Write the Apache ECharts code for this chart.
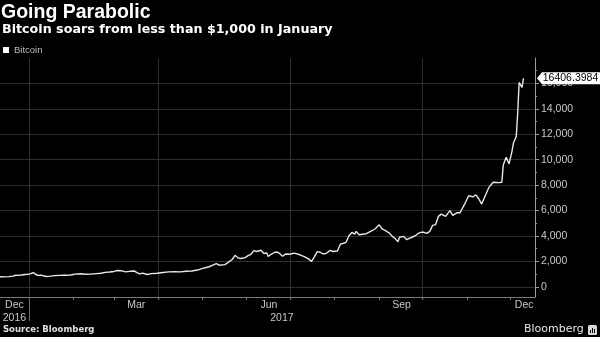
<!DOCTYPE html>
<html>
<head>
<meta charset="utf-8">
<script src="https://cdn.jsdelivr.net/npm/echarts@6/dist/echarts.min.js"></script>
<style>
  html, body { margin: 0; padding: 0; background: #000; }
  #chart { width: 600px; height: 337px; }
</style>
</head>
<body>
<div id="chart"></div>
<script>
// Bitcoin price (USD), Dec 2016 - Dec 2017
const dates = [
  '2016-12-12','2016-12-15','2016-12-18','2016-12-21','2016-12-23','2016-12-25','2016-12-28','2016-12-31',
  '2017-01-02','2017-01-04','2017-01-05','2017-01-07','2017-01-10','2017-01-11','2017-01-13','2017-01-16',
  '2017-01-19','2017-01-22','2017-01-26','2017-01-30','2017-02-02','2017-02-06','2017-02-09','2017-02-13',
  '2017-02-17','2017-02-20','2017-02-23','2017-02-26','2017-03-01','2017-03-03','2017-03-06','2017-03-09',
  '2017-03-10','2017-03-12','2017-03-15','2017-03-17','2017-03-19','2017-03-21','2017-03-24','2017-03-27',
  '2017-03-31','2017-04-04','2017-04-08','2017-04-12','2017-04-16','2017-04-20','2017-04-24','2017-04-28',
  '2017-05-01','2017-05-04','2017-05-06','2017-05-09','2017-05-11','2017-05-13','2017-05-17','2017-05-20',
  '2017-05-22','2017-05-24','2017-05-26','2017-05-28','2017-05-31','2017-06-02','2017-06-04','2017-06-06',
  '2017-06-08','2017-06-11','2017-06-13','2017-06-15','2017-06-16','2017-06-18','2017-06-21','2017-06-23',
  '2017-06-26','2017-06-28','2017-07-01','2017-07-04','2017-07-08','2017-07-11','2017-07-14','2017-07-16',
  '2017-07-18','2017-07-20','2017-07-22','2017-07-24','2017-07-26','2017-07-29','2017-07-31','2017-08-03',
  '2017-08-05','2017-08-09','2017-08-11','2017-08-13','2017-08-15','2017-08-16','2017-08-18','2017-08-19',
  '2017-08-23','2017-08-26','2017-08-29','2017-09-01','2017-09-03','2017-09-05','2017-09-06','2017-09-08',
  '2017-09-10','2017-09-12','2017-09-14','2017-09-15','2017-09-18','2017-09-20','2017-09-21','2017-09-24',
  '2017-09-26','2017-09-28','2017-09-30','2017-10-02','2017-10-04','2017-10-06','2017-10-08','2017-10-10',
  '2017-10-12','2017-10-14','2017-10-17','2017-10-20','2017-10-22','2017-10-25','2017-10-27','2017-10-30',
  '2017-11-02','2017-11-05','2017-11-07','2017-11-09','2017-11-11','2017-11-12','2017-11-16','2017-11-17',
  '2017-11-19','2017-11-23','2017-11-25','2017-11-26','2017-11-28','2017-11-30','2017-12-02','2017-12-03',
  '2017-12-05','2017-12-06','2017-12-07','2017-12-09','2017-12-10'
];
const prices = [
  790, 785, 800, 840, 910, 900, 950, 985,
  1020, 1120, 1010, 900, 905, 790, 810, 840,
  880, 900, 915, 930, 1000, 1025, 985, 1000,
  1040, 1065, 1140, 1170, 1210, 1280, 1270, 1180,
  1100, 1220, 1250, 1110, 1020, 1080, 970, 1040,
  1070, 1130, 1180, 1200, 1180, 1230, 1250, 1320,
  1430, 1520, 1580, 1720, 1830, 1700, 1750, 1980,
  2150, 2480, 2280, 2230, 2300, 2450, 2560, 2850,
  2780, 2880, 2620, 2660, 2380, 2560, 2740, 2700,
  2400, 2580, 2560, 2650, 2520, 2380, 2200, 2000,
  2350, 2770, 2720, 2600, 2620, 2870, 2780, 2820,
  3350, 3500, 4020, 4280, 4150, 4360, 4100, 3970,
  4180, 4360, 4550, 4880, 4550, 4440, 4570, 4230,
  3970, 3800, 3550, 3900, 3970, 3710, 3580, 3920,
  4020, 4200, 4290, 4290, 4210, 4360, 4830, 4890,
  5540, 5720, 5540, 5990, 5620, 5830, 5830, 6460,
  7160, 7080, 7240, 6930, 6510, 6560, 7820, 7690,
  8230, 8200, 8230, 9590, 10200, 9670, 10640, 11290,
  11820, 13650, 16080, 15680, 16406.3984
];

// Axis ticks and labels
const monthTickDates = ['2017-01-01','2017-02-01','2017-03-01','2017-04-01','2017-05-01','2017-06-01',
  '2017-07-01','2017-08-01','2017-09-01','2017-10-01','2017-11-01','2017-12-01'];
const quarterDates = ['2017-01-01','2017-04-01','2017-07-01','2017-10-01'];
const yearBreakDates = ['2017-01-01'];
const monthLabelNames = ['Dec','Mar','Jun','Sep','Dec'];
const monthLabelStarts = ['2016-12-01','2017-03-01','2017-06-01','2017-09-01','2017-12-01'];
const yearLabelNames = ['2016','2017'];
const yearLabelStarts = ['2016-01-01','2017-01-01'];
const yTickValues = [0,2000,4000,6000,8000,10000,12000,14000,16000];
const yMinorTickValues = [1000,3000,5000,7000,9000,11000,13000,15000,17000];

const EPOCH = Date.UTC(2017, 0, 1);
function dayIndex(s) {
  const [y, m, d] = s.split('-').map(Number);
  return (Date.UTC(y, m - 1, d) - EPOCH) / 86400000;
}
const clamp = (v, lo, hi) => Math.max(lo, Math.min(hi, v));

const X_MIN = dayIndex('2016-12-12');
const X_MAX = dayIndex('2017-12-18');

const seriesData = dates.map((s, i) => [dayIndex(s), prices[i]]);
const lastValue = prices[prices.length - 1];

// month names sit mid-month, kept inside the plot
const monthLabelDays = monthLabelStarts.map(s => clamp(dayIndex(s) + 15.5, X_MIN + 10, X_MAX - 7.5));
// year names sit in the middle of the visible part of each year
const yearLabelDays = yearLabelStarts.map(s => {
  const y = Number(s.slice(0, 4));
  const a = Math.max(X_MIN, dayIndex(s));
  const b = Math.min(X_MAX, dayIndex((y + 1) + '-01-01'));
  return (a + b) / 2;
});
const lookup = (days, names) => v => {
  const i = days.findIndex(d => Math.abs(d - v) < 1e-6);
  return i < 0 ? '' : names[i];
};

const AXIS_FONT = 'Liberation Sans';
const LABEL_COLOR = '#c8c8c8';
const GRID_COLOR = '#2e2e2e';

const chart = echarts.init(document.getElementById('chart'), null, { renderer: 'canvas' });
chart.setOption({
  backgroundColor: '#000',
  animation: false,
  title: [
    { text: 'Going Parabolic', left: 1, top: 3, padding: 0,
      textStyle: { color: '#fff', fontSize: 19.5, fontWeight: 'bold', fontFamily: 'Liberation Sans' } },
    { text: 'Bitcoin soars from less than $1,000 in January', left: 2, top: 23, padding: 0,
      textStyle: { color: '#fff', fontSize: 12.7, fontWeight: 'bold', fontFamily: 'DejaVu Sans' } },
    { text: 'Source: Bloomberg', left: 3, top: 325, padding: 0,
      textStyle: { color: '#e0e0e0', fontSize: 8.5, fontWeight: 'bold', fontFamily: 'DejaVu Sans' } },
    { text: 'Bloomberg', left: 524, top: 324, padding: 0,
      textStyle: { color: '#e6e6e6', fontSize: 11, fontWeight: 'normal', fontFamily: 'DejaVu Sans' } }
  ],
  graphic: [{
    type: 'group', left: 588, top: 325,
    children: [
      { type: 'rect', shape: { x: 0, y: 0, width: 9, height: 10, r: 1.5 }, style: { fill: '#d8d8d8' } },
      { type: 'rect', shape: { x: 2, y: 5, width: 1, height: 3 }, style: { fill: '#000' } },
      { type: 'rect', shape: { x: 4, y: 3, width: 1, height: 5 }, style: { fill: '#000' } },
      { type: 'rect', shape: { x: 6, y: 4, width: 1, height: 4 }, style: { fill: '#000' } }
    ]
  }],
  legend: {
    data: ['Bitcoin'], left: 3, top: 45, padding: 0, icon: 'rect',
    itemWidth: 6, itemHeight: 6, selectedMode: false,
    textStyle: { color: '#bdbdbd', fontSize: 9.5, fontFamily: AXIS_FONT }
  },
  grid: { left: 0, right: 65, top: 58, bottom: 40, containLabel: false, outerBoundsMode: 'none' },
  xAxis: [
    { // months: ticks at month starts, names mid-month
      type: 'value', min: X_MIN, max: X_MAX, position: 'bottom',
      axisLine: { show: true, onZero: false, lineStyle: { color: '#7a7a7a', width: 1 } },
      axisTick: { show: true, customValues: monthTickDates.map(dayIndex), length: 3, lineStyle: { color: '#7a7a7a' } },
      axisLabel: { show: true, customValues: monthLabelDays, formatter: lookup(monthLabelDays, monthLabelNames),
        color: LABEL_COLOR, fontSize: 10.5, fontFamily: AXIS_FONT, margin: 2, lineHeight: 12 },
      splitLine: { show: false }
    },
    { // years, second row
      type: 'value', min: X_MIN, max: X_MAX, position: 'bottom', offset: 13,
      axisLine: { show: false, onZero: false }, axisTick: { show: false },
      axisLabel: { show: true, customValues: yearLabelDays, formatter: lookup(yearLabelDays, yearLabelNames),
        color: LABEL_COLOR, fontSize: 10.5, fontFamily: AXIS_FONT, margin: 2, lineHeight: 12 },
      splitLine: { show: false }
    },
    { // year boundary divider below the axis
      type: 'value', min: X_MIN, max: X_MAX, position: 'bottom',
      axisLine: { show: false, onZero: false },
      axisTick: { show: true, customValues: yearBreakDates.map(dayIndex), length: 24, lineStyle: { color: '#6a6a6a' } },
      axisLabel: { show: false }, splitLine: { show: false }
    },
    { // quarter gridlines
      type: 'value', min: X_MIN, max: X_MAX, position: 'bottom',
      axisLine: { show: false, onZero: false },
      axisTick: { show: false, customValues: quarterDates.map(dayIndex) },
      axisLabel: { show: false },
      splitLine: { show: true, lineStyle: { color: GRID_COLOR, width: 1 } }
    }
  ],
  yAxis: [
    {
      type: 'value', position: 'right', min: -800, max: 18000,
      axisLine: { show: true, onZero: false, lineStyle: { color: '#9a9a9a', width: 1 } },
      axisTick: { show: true, customValues: yTickValues, length: 4, lineStyle: { color: '#9a9a9a' } },
      axisLabel: { show: true, customValues: yTickValues, color: LABEL_COLOR, fontSize: 10.5,
        fontFamily: AXIS_FONT, margin: 6 },
      splitLine: { show: true, lineStyle: { color: GRID_COLOR, width: 1 } }
    },
    {
      type: 'value', position: 'right', min: -800, max: 18000,
      axisLine: { show: false, onZero: false },
      axisTick: { show: true, customValues: yMinorTickValues, length: 2, lineStyle: { color: '#9a9a9a' } },
      axisLabel: { show: false }, splitLine: { show: false }
    }
  ],
  series: [{
    name: 'Bitcoin', type: 'line', xAxisIndex: 0, yAxisIndex: 0,
    data: seriesData, showSymbol: false, symbol: 'none', z: 3,
    lineStyle: { color: '#e8e8e8', width: 1.4 },
    itemStyle: { color: '#ffffff' },
    markPoint: {
      silent: true, animation: false,
      symbol: 'path://M0,6L5,0L63,0L63,12L5,12Z',
      symbolSize: [63, 12], symbolKeepAspect: false, symbolOffset: [33.5, 0],
      itemStyle: { color: '#ffffff' },
      label: { show: true, position: 'inside', color: '#000', fontSize: 10.5, fontFamily: AXIS_FONT,
        offset: [2, 0], formatter: () => lastValue.toFixed(4) },
      data: [{ coord: [X_MAX, lastValue], value: lastValue }]
    }
  }]
});
</script>
</body>
</html>
